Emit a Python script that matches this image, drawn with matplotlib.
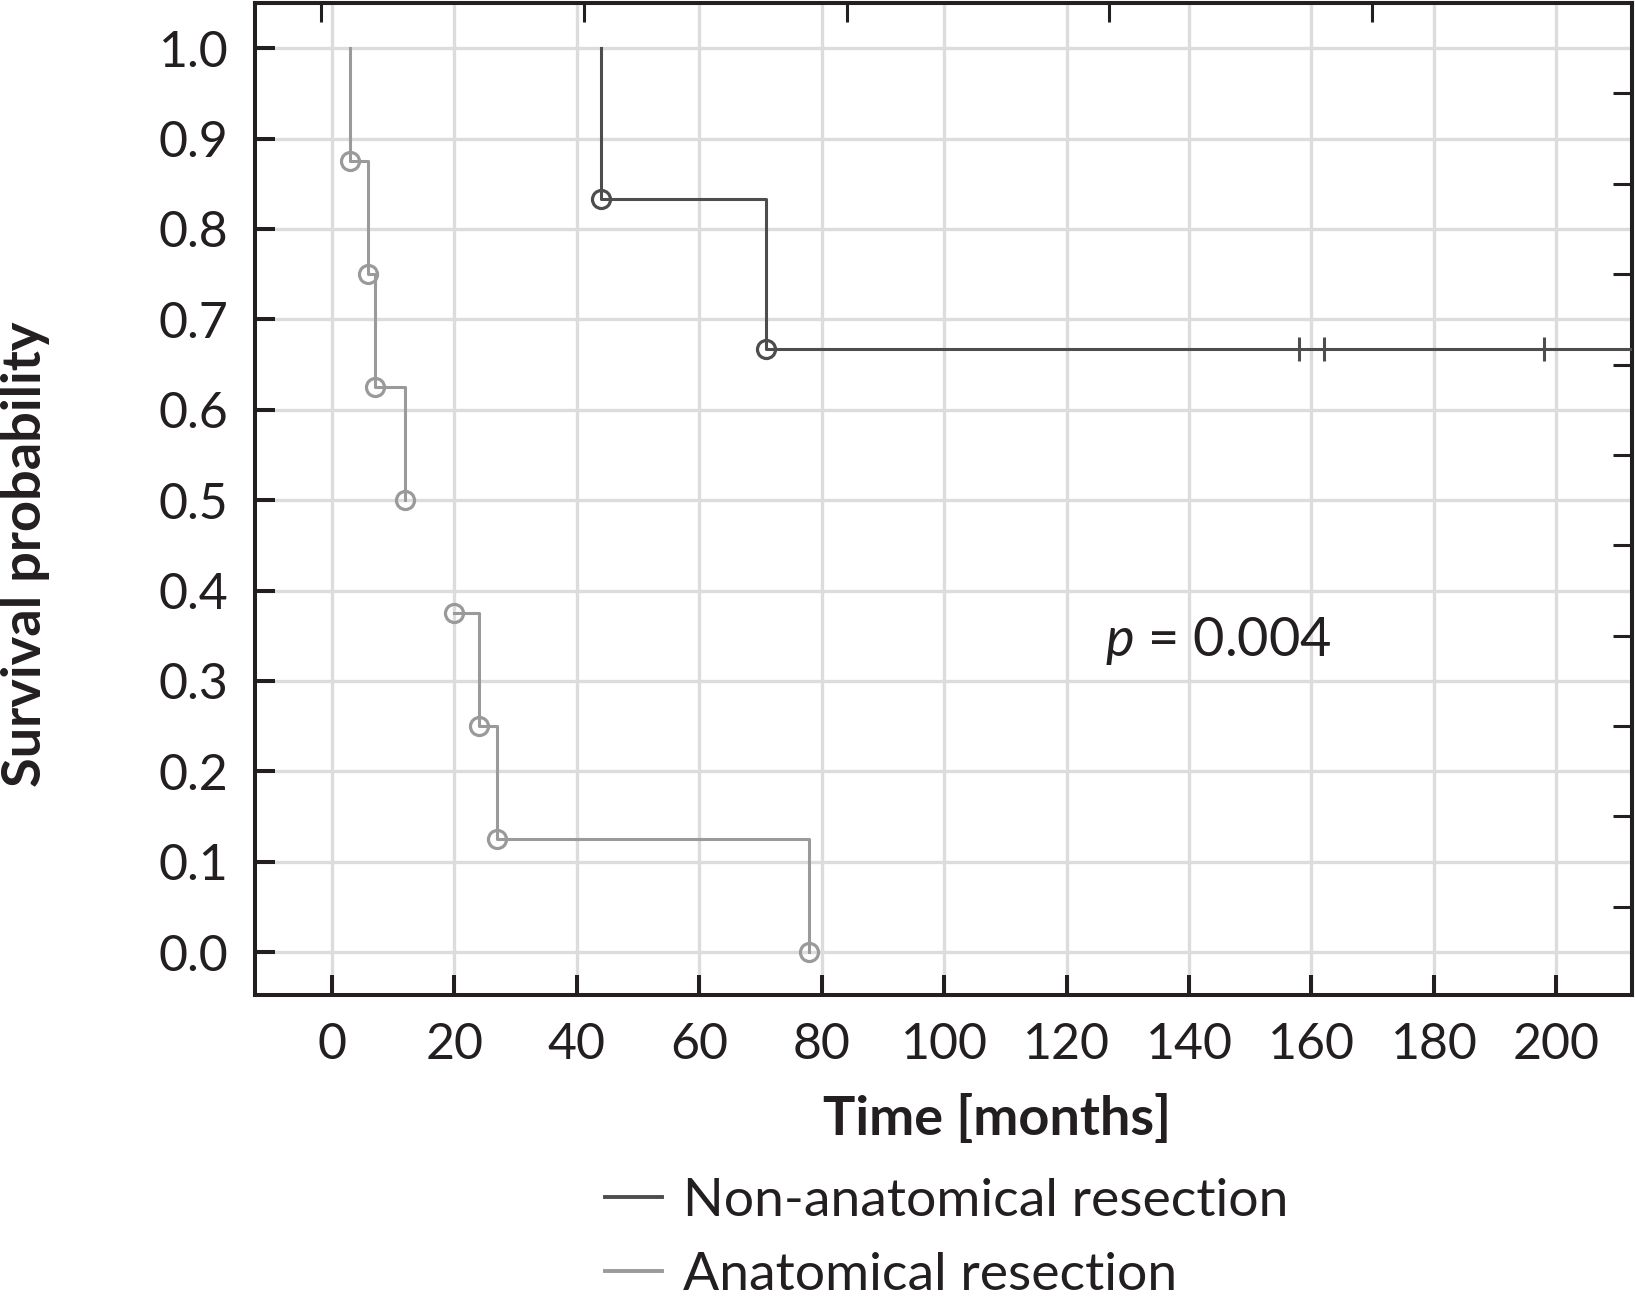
import matplotlib
matplotlib.use("Agg")
import matplotlib.pyplot as plt
import numpy as np

# Anatomical resection (drawn as two step pieces, like the original)
anat_t1 = [3, 3, 6, 7, 12]
anat_s1 = [1.0, 0.875, 0.75, 0.625, 0.5]
anat_t2 = [20, 24, 27, 78]
anat_s2 = [0.375, 0.25, 0.125, 0.0]
anat_evt_t = [3, 6, 7, 12, 20, 24, 27, 78]
anat_evt_s = [0.875, 0.75, 0.625, 0.5, 0.375, 0.25, 0.125, 0.0]

# Non-anatomical resection
non_t = [44, 44, 71, 215]
non_s = [1.0, 0.833, 0.667, 0.667]
non_evt_t = [44, 71]
non_evt_s = [0.833, 0.667]
non_cens_t = [158, 162, 198]
non_cens_s = [0.667, 0.667, 0.667]

x_ticks = list(range(0, 201, 20))
y_ticks = [0.0, 0.1, 0.2, 0.3, 0.4, 0.5, 0.6, 0.7, 0.8, 0.9, 1.0]
top_ticks = [-1.8, 41.2, 84.1, 127.0, 169.9]
right_ticks = [0.05, 0.15, 0.25, 0.35, 0.45, 0.55, 0.65, 0.75, 0.85, 0.95]

dark = "#4d4d4d"
light = "#9a9a9a"
frame = "#231f20"

plt.rcParams["font.family"] = ["Lato", "DejaVu Sans"]
plt.rcParams["mathtext.fontset"] = "custom"
plt.rcParams["mathtext.it"] = "Lato:italic"
plt.rcParams["mathtext.rm"] = "Lato"

fig = plt.figure(figsize=(16.35, 12.97), dpi=100)
ax = fig.add_axes([0.1557, 0.2325, 0.998 - 0.1557, 0.9977 - 0.2325])

ax.plot(non_t, non_s, drawstyle="steps-post", color=dark, lw=2.2, zorder=3,
        label="Non-anatomical resection")
ax.plot(non_evt_t, non_evt_s, "o", mfc="none", mec=dark, ms=13, mew=2.3, zorder=4)
ax.plot(non_cens_t, non_cens_s, "|", color=dark, ms=17, mew=2.2, zorder=4)

ax.plot(anat_t1, anat_s1, drawstyle="steps-post", color=light, lw=2.2, zorder=3,
        label="Anatomical resection")
ax.plot(anat_t2, anat_s2, drawstyle="steps-post", color=light, lw=2.2, zorder=3)
ax.plot(anat_evt_t, anat_evt_s, "o", mfc="none", mec=light, ms=13, mew=2.3, zorder=4)

ax.set_xlim(-12.6, 212.3)
ax.set_ylim(-0.048, 1.050)
ax.set_xticks(x_ticks)
ax.set_yticks(y_ticks)
ax.set_yticklabels(["%.1f" % v for v in y_ticks])
ax.grid(True, color="#dcdcdc", lw=2.4, zorder=0)
ax.set_axisbelow(True)

for sp in ax.spines.values():
    sp.set_color(frame)
    sp.set_linewidth(2.9)
ax.tick_params(direction="in", length=14.4, width=2.9, color=frame,
               labelsize=36, labelcolor=frame, pad=19)

top = ax.secondary_xaxis("top")
top.set_xticks(top_ticks)
top.set_xticklabels([])
top.tick_params(direction="in", length=14, width=2.2, color=frame)
top.spines["top"].set_linewidth(2.9)
top.spines["top"].set_color(frame)

right = ax.secondary_yaxis("right")
right.set_yticks(right_ticks)
right.set_yticklabels([])
right.tick_params(direction="in", length=14, width=2.2, color=frame)
right.spines["right"].set_linewidth(2.9)
right.spines["right"].set_color(frame)

fig.text(0.6098, 0.1373, "Time [months]", fontsize=39, fontweight="bold", color=frame,
         ha="center", va="center")
fig.text(0.0159, 1 - 554 / 1297, "Survival probability", fontsize=39, fontweight="bold",
         color=frame, ha="center", va="center", rotation=90)

ax.text(126.3, 0.344, r"$p$ = 0.004", fontsize=39, color=frame, va="center", ha="left")

leg = fig.legend(loc="upper left", bbox_to_anchor=(0.370, 0.0921), frameon=False,
                 fontsize=38.5, handlelength=1.07, handletextpad=0.39, labelspacing=0.51,
                 borderaxespad=0, borderpad=0)
for t in leg.get_texts():
    t.set_color(frame)
for h in leg.get_lines():
    h.set_linewidth(2.8)

fig.savefig("out.png", dpi=100)
